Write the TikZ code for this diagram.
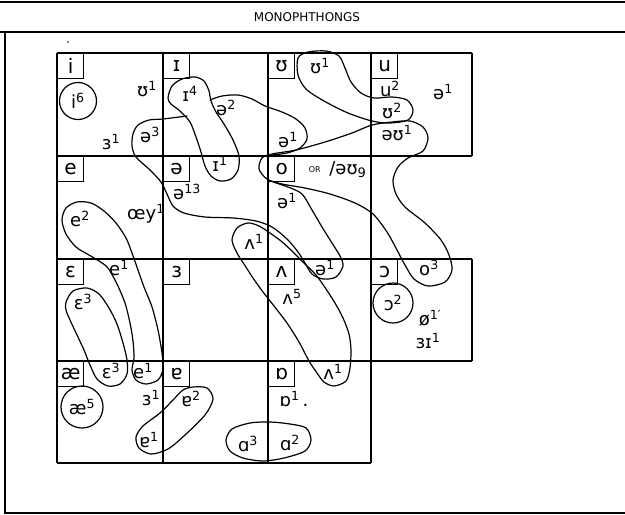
\documentclass[tikz,border=0pt]{standalone}
\usepackage{fontspec}
\setmainfont{DejaVu Sans}
\usetikzlibrary{positioning}
\newcommand\hwfont{\fontsize{18}{20}\selectfont}
\newcommand\boxfont{\fontsize{20}{22}\selectfont}
\tikzset{
  % Frame and chart
  frameline/.style = { line width=1.6pt },
  gridline/.style  = { line width=1.5pt },
  cellbox/.style   = { draw, line width=1.3pt, anchor=north west, minimum width=26pt,
                       minimum height=25pt, inner sep=0, font=\boxfont },
  % Hand-written entries
  hwlabel/.style   = { font=\hwfont, inner sep=1pt },
  hwring/.style    = { hwlabel, circle, draw, line width=1.2pt, inner sep=0 },
  hwloop/.style    = { line width=1.2pt, line join=round, line cap=round }
}

\begin{document}
\begin{tikzpicture}[x=1pt, y=-1pt]
  \useasboundingbox (0,0) rectangle (625,515);

  % --- Frame and title -------------------------------------------
  \draw[frameline] (0,2) -- (625,2);
  \draw[frameline] (0,32) -- (625,32);
  \draw[frameline] (5,32) -- (5,513) -- (625,513);
  \node[font=\fontsize{12}{14}\selectfont] (title) at (307,17) {MONOPHTHONGS};

  % --- Chart grid (fixed cells, 4 x 4 minus the missing ones) -----
  \foreach \y in {53,156,259,361}
    \draw[gridline] (57,\y) -- (472,\y);
  \draw[gridline] (57,463) -- (371,463);
  \foreach \x in {57,163,268,371}
    \draw[gridline] (\x,53) -- (\x,463);
  \draw[gridline] (472,53) -- (472,156);
  \draw[gridline] (472,259) -- (472,361);

  % --- Cell boxes ---------------------------------------------------
  \node[cellbox] (bi)  at (57,53)   {i};
  \node[cellbox] (bI)  at (163,53)  {ɪ};
  \node[cellbox] (bU)  at (268,53)  {ʊ};
  \node[cellbox] (bu)  at (371,53)  {u};
  \node[cellbox] (be)  at (57,156)  {e};
  \node[cellbox] (bsw) at (163,156) {ə};
  \node[cellbox] (bo)  at (268,156) {o};
  \node[cellbox] (bE)  at (57,259)  {ɛ};
  \node[cellbox] (b3)  at (163,259) {ɜ};
  \node[cellbox] (bV)  at (268,259) {ʌ};
  \node[cellbox] (bO)  at (371,259) {ɔ};
  \node[cellbox] (bae) at (57,361)  {æ};
  \node[cellbox] (bat) at (163,361) {ɐ};
  \node[cellbox] (bQ)  at (268,361) {ɒ};

  % --- Hand-written entries ------------------------------------------
  \node[hwring, minimum size=37pt] (i6) at (78,101) {i\textsuperscript{6}};
  \node[hwlabel] (U1a)  at (147,89)  {ʊ\textsuperscript{1}};
  \node[hwlabel] (e3a)  at (111,142) {ɜ\textsuperscript{1}};
  \node[hwlabel] (sw3)  at (150,135) {ə\textsuperscript{3}};
  \node[hwlabel] (I4)   at (190,94)  {ɪ\textsuperscript{4}};
  \node[hwlabel] (sw2)  at (226,108) {ə\textsuperscript{2}};
  \node[hwlabel] (U1b)  at (320,66)  {ʊ\textsuperscript{1}};
  \node[hwlabel] (sw1a) at (288,140) {ə\textsuperscript{1}};
  \node[hwlabel] (u2)   at (390,89)  {u\textsuperscript{2}};
  \node[hwlabel] (U2)   at (392,111) {ʊ\textsuperscript{2}};
  \node[hwlabel] (swU1) at (397,133) {əʊ\textsuperscript{1}};
  \node[hwlabel] (sw1b) at (443,92)  {ə\textsuperscript{1}};

  \node[hwlabel] (e2)   at (80,219)  {e\textsuperscript{2}};
  \node[hwlabel] (oey1) at (146,214) {œy\textsuperscript{1}};
  \node[hwlabel] (I1)   at (220,164) {ɪ\textsuperscript{1}};
  \node[hwlabel] (sw13) at (187,192) {ə\textsuperscript{13}};
  \node[hwlabel] (V1a)  at (254,242) {ʌ\textsuperscript{1}};
  \node[font=\fontsize{8}{9}\selectfont, right=10pt of bo] (or) {OR};
  \node[hwlabel, right=4pt of or] (swU9) {/əʊ\raisebox{-3pt}{\fontsize{13}{13}\selectfont 9}};
  \node[hwlabel] (sw1c) at (287,201) {ə\textsuperscript{1}};

  \node[hwlabel] (e1a)  at (119,268) {e\textsuperscript{1}};
  \node[hwlabel] (E3a)  at (83,302)  {ɛ\textsuperscript{3}};
  \node[hwlabel] (sw1d) at (325,268) {ə\textsuperscript{1}};
  \node[hwlabel] (V5)   at (292,297) {ʌ\textsuperscript{5}};
  \node[hwlabel] (o3)   at (429,268) {o\textsuperscript{3}};
  \node[hwring, minimum size=40pt] (O2) at (393,303) {ɔ\textsuperscript{2}};
  \node[hwlabel] (oe1)  at (430,318) {ø\textsuperscript{1′}};
  \node[hwlabel] (eI1)  at (428,341) {ɜɪ\textsuperscript{1}};

  \node[hwlabel] (E3b)  at (111,371) {ɛ\textsuperscript{3}};
  \node[hwlabel] (e1b)  at (143,371) {e\textsuperscript{1}};
  \node[hwring, minimum size=42pt] (ae5) at (82,407) {æ\textsuperscript{5}};
  \node[hwlabel] (e3b)  at (151,398) {ɜ\textsuperscript{1}};
  \node[hwlabel] (at2)  at (191,399) {ɐ\textsuperscript{2}};
  \node[hwlabel] (at1)  at (149,440) {ɐ\textsuperscript{1}};
  \node[hwlabel] (Q1)   at (294,399) {ɒ\textsuperscript{1}\,.};
  \node[hwlabel] (a3)   at (248,444) {ɑ\textsuperscript{3}};
  \node[hwlabel] (a2)   at (290,443) {ɑ\textsuperscript{2}};
  \node[hwlabel] (V1b)  at (333,372) {ʌ\textsuperscript{1}};
  \fill (68,42) circle (0.8pt);

  % --- Loops round the groups ------------------------------------------
  % ɪ4 down to ɪ1
  \draw[hwloop] plot[smooth cycle] coordinates {(168,98) (172,86) (182,79) (195,77)
    (204,81) (209,91) (211,101) (216,112) (224,124) (233,140) (239,156) (238,170)
    (231,179) (220,181) (211,176) (205,166) (201,152) (196,137) (190,122) (180,111)
    (171,104)};
  % ə2 over to ə1
  \draw[hwloop] plot[smooth] coordinates {(210,100) (222,96) (238,95) (252,99)
    (265,106) (282,112) (296,119) (305,128) (307,139) (300,148) (287,153) (272,155)};
  % ʊ1 to ʊ2
  \draw[hwloop] plot[smooth cycle] coordinates {(298,58) (308,52) (326,51) (339,56)
    (345,68) (351,82) (361,93) (374,98) (392,97) (407,100) (413,110) (408,120)
    (390,123) (372,121) (348,113) (324,101) (306,89) (298,75)};
  % əʊ1, o and o3
  \draw[hwloop] plot[smooth cycle] coordinates {(428,138) (423,151) (408,158) (398,167)
    (393,180) (396,194) (405,207) (425,223) (441,240) (449,255) (452,270) (445,282)
    (428,286) (414,279) (405,265) (397,250) (387,232) (373,214) (355,203) (330,194)
    (305,188) (282,184) (267,179) (259,169) (262,158) (272,154) (296,150) (325,142)
    (352,133) (372,125) (392,122) (410,121) (423,127)};
  % ə3, ə13 and the two ə1
  \draw[hwloop] plot[smooth] coordinates {(187,116) (163,119) (149,120) (138,125)
    (133,134) (132,146) (136,157) (150,170) (161,182) (167,194) (173,206) (184,213)
    (205,217) (233,218) (256,221) (272,227) (287,239) (298,252) (305,263) (312,274)
    (323,279) (336,277) (343,266) (340,256) (332,243) (322,227) (312,210) (302,194)
    (288,187) (273,182)};
  % ʌ1, ʌ5, ʌ1
  \draw[hwloop] plot[smooth cycle] coordinates {(237,228) (232,240) (237,253) (244,264)
    (253,278) (263,292) (274,306) (287,323) (299,342) (309,361) (317,373) (324,382)
    (334,386) (346,381) (350,368) (351,350) (349,334) (343,318) (335,303) (326,289)
    (316,275) (303,262) (292,251) (281,241) (270,233) (259,226) (248,223)};
  % e2, e1, e1
  \draw[hwloop] plot[smooth cycle] coordinates {(62,220) (66,234) (76,247) (89,255)
    (99,261) (108,268) (117,284) (125,303) (130,323) (133,341) (134,358) (132,370)
    (136,380) (146,384) (158,380) (163,369) (162,353) (158,330) (152,307) (144,287)
    (138,270) (132,253) (126,238) (116,223) (104,211) (91,203) (77,202) (66,208)};
  % ɛ3 to ɛ3
  \draw[hwloop] plot[smooth cycle] coordinates {(66,302) (73,291) (87,288) (99,294)
    (109,308) (117,324) (123,343) (127,360) (127,374) (120,384) (108,386) (97,379)
    (90,365) (84,350) (77,335) (70,320) (66,310)};
  % ɐ2, ɐ1
  \draw[hwloop] plot[smooth cycle] coordinates {(193,387) (207,388) (213,399) (205,415)
    (185,435) (168,449) (151,454) (139,448) (136,437) (143,426) (160,413) (173,400)
    (183,390)};
  % ɑ3, ɑ2
  \draw[hwloop] plot[smooth cycle] coordinates {(226,440) (232,429) (250,423) (270,422)
    (290,424) (306,428) (311,440) (305,451) (284,458) (263,461) (243,458) (230,451)};

\end{tikzpicture}
\end{document}
